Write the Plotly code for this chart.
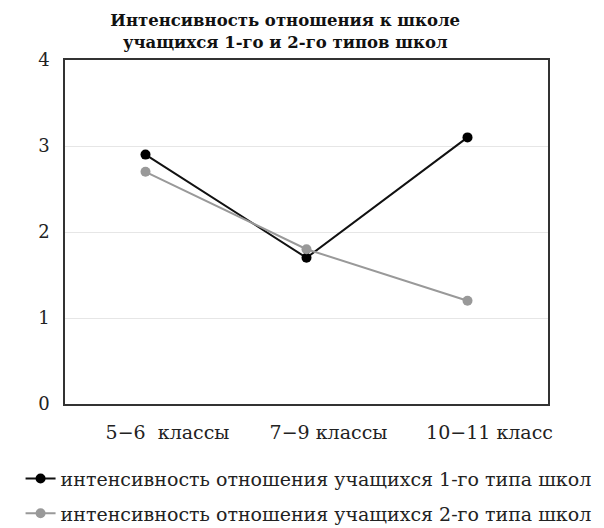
import plotly.graph_objects as go

categories = ["5−6  классы", "7−9 классы", "10−11 класс"]
series1 = [2.9, 1.7, 3.1]
series2 = [2.7, 1.8, 1.2]
name1 = "интенсивность отношения учащихся 1-го типа школ"
name2 = "интенсивность отношения учащихся 2-го типа школ"
title = "<b>Интенсивность отношения к школе<br>учащихся 1-го и 2-го типов школ</b>"

FONT = "DejaVu Serif"

fig = go.Figure()
fig.add_trace(go.Scatter(x=categories, y=series1, mode="lines+markers", name=name1,
                         legendgroup="a",
                         line=dict(color="#111111", width=2),
                         marker=dict(color="#000000", size=10)))
fig.add_trace(go.Scatter(x=categories, y=series2, mode="lines+markers", name=name2,
                         legendgroup="b",
                         line=dict(color="#999999", width=2),
                         marker=dict(color="#999999", size=10)))

fig.update_layout(
    width=604, height=528,
    margin=dict(l=57, r=64, t=52, b=132, autoexpand=False),
    paper_bgcolor="white", plot_bgcolor="white",
    font=dict(family=FONT, color="#222222", size=16),
    title=dict(text=title, x=0.459, xanchor="center", y=0.9655, yanchor="middle",
               font=dict(family=FONT, size=16.5, color="#111111")),
    showlegend=True,
    legend=dict(x=-0.092, xanchor="left", y=-0.162, yanchor="top",
                orientation="v", font=dict(family=FONT, size=19, color="#222222"),
                tracegroupgap=7, itemwidth=30),
    xaxis=dict(type="category", range=[-0.5, 2.5], showgrid=False,
               showline=True, linecolor="#333333", linewidth=1.5, mirror=True,
               ticks="", tickfont=dict(family=FONT, size=19, color="#222222"),
               ticklabelshift=22, ticklabelstandoff=10),
    yaxis=dict(range=[0, 4], dtick=1, showgrid=True, gridcolor="#e6e6e6",
               showline=True, linecolor="#333333", linewidth=1.5, mirror=True,
               zeroline=False, ticks="", tickfont=dict(family=FONT, size=18, color="#222222"),
               ticklabelstandoff=10),
)

fig.write_html("out.html")
